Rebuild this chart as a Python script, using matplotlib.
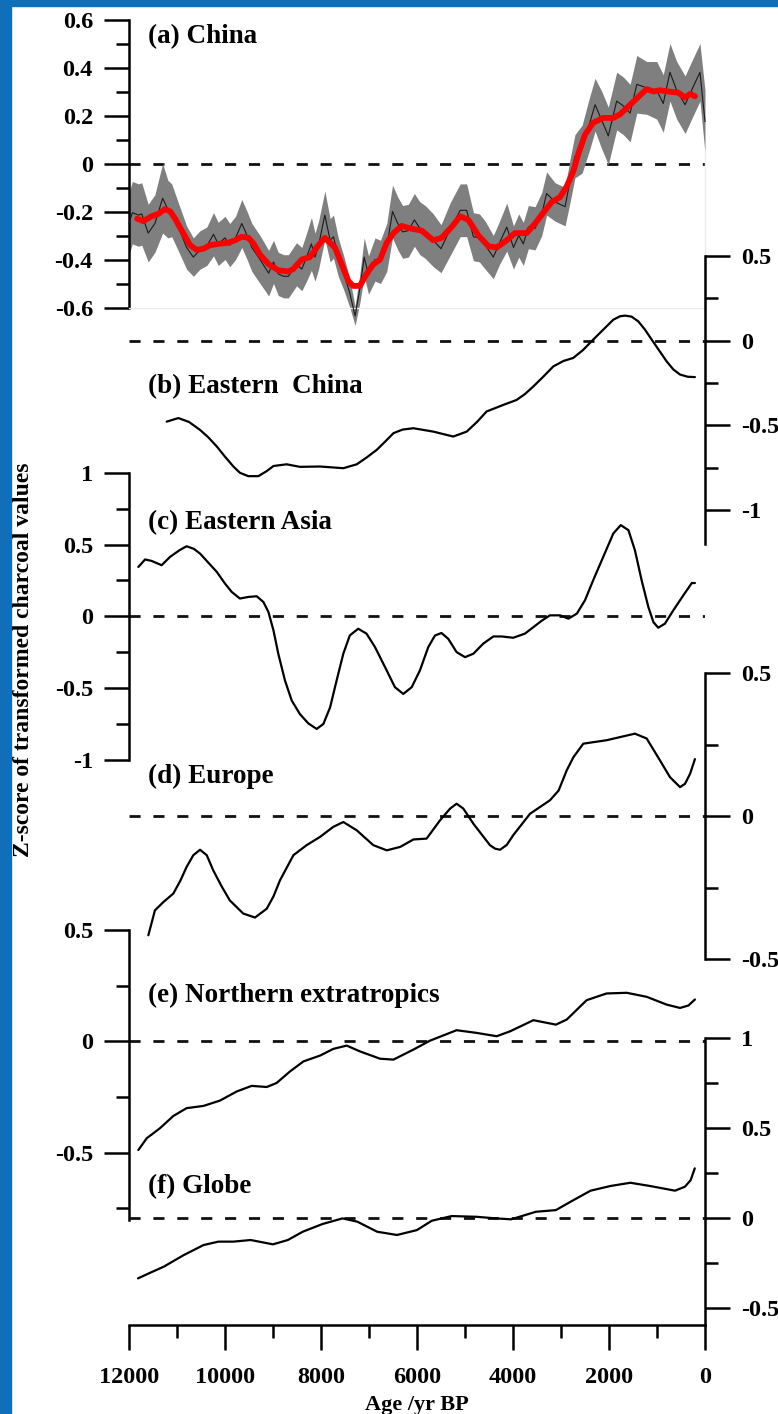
import matplotlib
matplotlib.use("Agg")
import matplotlib.pyplot as plt
from matplotlib.patches import Rectangle
from matplotlib.ticker import FixedLocator, FixedFormatter

# ---------------- data ----------------
# (a) China: thin mean line, its uncertainty half-width, and the smoothed red curve
a_age = [12000, 11930, 11800, 11735, 11600, 11460, 11300, 11190, 11110, 10970,
         10800, 10660, 10520, 10380, 10240, 10140, 10000, 9900, 9780, 9650,
         9540, 9440, 9270, 9090, 8990, 8890, 8780, 8680, 8510, 8400,
         8300, 8200, 8125, 8050, 7920, 7810, 7740, 7640, 7520, 7400,
         7290, 7190, 7100, 7010, 6875, 6760, 6630, 6510, 6400, 6300,
         6180, 6055, 5940, 5830, 5660, 5500, 5300, 5100, 4965, 4825,
         4700, 4580, 4410, 4280, 4130, 3990, 3880, 3785, 3680, 3540,
         3400, 3300, 3125, 2915, 2810, 2710, 2560, 2400, 2290, 2150,
         2015, 1840, 1700, 1560, 1420, 1215, 1005, 870, 730, 590,
         415, 245, 105, 0]
a_mean = [-0.25, -0.205, -0.215, -0.21, -0.29, -0.25, -0.145, -0.19, -0.195, -0.265,
          -0.35, -0.39, -0.36, -0.345, -0.295, -0.335, -0.31, -0.34, -0.31, -0.25,
          -0.30, -0.35, -0.40, -0.457, -0.41, -0.46, -0.47, -0.47, -0.42, -0.44,
          -0.39, -0.335, -0.39, -0.34, -0.215, -0.32, -0.305, -0.39, -0.46, -0.54,
          -0.635, -0.52, -0.39, -0.465, -0.40, -0.41, -0.35, -0.20, -0.25, -0.285,
          -0.28, -0.235, -0.27, -0.285, -0.32, -0.355, -0.27, -0.195, -0.195, -0.305,
          -0.31, -0.34, -0.39, -0.33, -0.265, -0.35, -0.30, -0.335, -0.265, -0.27,
          -0.21, -0.125, -0.16, -0.18, -0.07, 0.03, 0.06, 0.17, 0.245, 0.18,
          0.115, 0.26, 0.24, 0.21, 0.33, 0.315, 0.305, 0.25, 0.38, 0.305,
          0.245, 0.32, 0.38, 0.175]
a_err = [0.13, 0.13, 0.13, 0.13, 0.12, 0.12, 0.145, 0.12, 0.11, 0.10,
         0.09, 0.08, 0.08, 0.08, 0.09, 0.09, 0.09, 0.09, 0.09, 0.10,
         0.10, 0.10, 0.10, 0.095, 0.09, 0.09, 0.09, 0.09, 0.09, 0.09,
         0.10, 0.11, 0.10, 0.10, 0.10, 0.09, 0.09, 0.08, 0.07, 0.06,
         0.04, 0.06, 0.08, 0.08, 0.09, 0.09, 0.10, 0.11, 0.11, 0.11,
         0.11, 0.11, 0.11, 0.11, 0.11, 0.10, 0.11, 0.11, 0.11, 0.10,
         0.10, 0.10, 0.09, 0.09, 0.10, 0.09, 0.09, 0.09, 0.09, 0.09,
         0.09, 0.09, 0.08, 0.08, 0.09, 0.09, 0.10, 0.11, 0.11, 0.12,
         0.12, 0.12, 0.12, 0.12, 0.12, 0.11, 0.12, 0.12, 0.12, 0.12,
         0.12, 0.12, 0.12, 0.13]
a_smooth_age = [11830, 11700, 11530, 11390, 11250, 11140, 11040, 10900, 10730, 10590,
                10450, 10310, 10140, 9930, 9790, 9650, 9510, 9400, 9270, 9090,
                8890, 8680, 8580, 8400, 8230, 8090, 7920, 7710, 7570, 7430,
                7330, 7190, 7050, 6910, 6770, 6630, 6490, 6320, 6150, 5900,
                5660, 5490, 5280, 5100, 4930, 4720, 4510, 4340, 4130, 3960,
                3715, 3540, 3370, 3190, 3020, 2880, 2740, 2640, 2500, 2330,
                2120, 1910, 1770, 1560, 1350, 1215, 1075, 940, 765, 555,
                415, 310, 210]
a_smooth = [-0.23, -0.24, -0.22, -0.21, -0.19, -0.20, -0.23, -0.28, -0.34, -0.36,
            -0.355, -0.34, -0.335, -0.33, -0.32, -0.305, -0.31, -0.335, -0.38, -0.42,
            -0.445, -0.45, -0.44, -0.40, -0.39, -0.35, -0.31, -0.35, -0.42, -0.49,
            -0.51, -0.51, -0.46, -0.42, -0.40, -0.33, -0.29, -0.26, -0.27, -0.28,
            -0.32, -0.31, -0.265, -0.22, -0.235, -0.30, -0.345, -0.35, -0.32, -0.29,
            -0.29, -0.25, -0.205, -0.16, -0.14, -0.095, -0.03, 0.04, 0.12, 0.17,
            0.19, 0.19, 0.205, 0.245, 0.285, 0.31, 0.30, 0.305, 0.30, 0.295,
            0.275, 0.29, 0.28]

# (b) Eastern China
b_age = [11215, 10970, 10750, 10520, 10350, 10170, 10000, 9825, 9690, 9515,
         9305, 9130, 8990, 8715, 8440, 8020, 7535, 7255, 7050, 6840,
         6660, 6490, 6300, 6075, 5660, 5245, 4965, 4750, 4550, 4200,
         3925, 3750, 3575, 3360, 3160, 2950, 2745, 2540, 2330, 2120,
         1910, 1770, 1665, 1530, 1390, 1250, 1110, 950, 800, 660,
         520, 360, 210]
b_val = [-0.478, -0.457, -0.48, -0.527, -0.57, -0.625, -0.685, -0.743, -0.78, -0.80,
         -0.80, -0.77, -0.74, -0.73, -0.745, -0.743, -0.753, -0.73, -0.69, -0.645,
         -0.595, -0.546, -0.525, -0.517, -0.537, -0.566, -0.537, -0.48, -0.418, -0.379,
         -0.35, -0.315, -0.27, -0.21, -0.152, -0.12, -0.102, -0.055, 0.006, 0.065,
         0.124, 0.144, 0.148, 0.142, 0.114, 0.065, 0.006, -0.06, -0.122, -0.17,
         -0.20, -0.213, -0.215]

# (c) Eastern Asia
c_age = [11805, 11665, 11530, 11320, 11145, 10950, 10800, 10650, 10520, 10170,
         10000, 9860, 9690, 9515, 9340, 9200, 9095, 8990, 8890, 8750,
         8610, 8440, 8265, 8090, 7950, 7810, 7675, 7535, 7400, 7225,
         7050, 6875, 6665, 6460, 6285, 6110, 5940, 5765, 5625, 5490,
         5350, 5175, 5000, 4825, 4620, 4410, 4240, 3995, 3750, 3575,
         3400, 3230, 3020, 2845, 2670, 2500, 2330, 2120, 1910, 1755,
         1595, 1460, 1320, 1180, 1075, 975, 835, 660, 450, 275,
         210]
c_val = [0.344, 0.396, 0.386, 0.356, 0.414, 0.46, 0.488, 0.47, 0.437, 0.309,
         0.228, 0.17, 0.124, 0.135, 0.14, 0.10, 0.03, -0.098, -0.26, -0.447,
         -0.586, -0.68, -0.745, -0.784, -0.749, -0.633, -0.447, -0.26, -0.133, -0.086,
         -0.121, -0.214, -0.354, -0.493, -0.54, -0.493, -0.377, -0.214, -0.133, -0.116,
         -0.156, -0.249, -0.284, -0.26, -0.19, -0.14, -0.14, -0.149, -0.12, -0.075,
         -0.03, 0.007, 0.007, -0.016, 0.019, 0.112, 0.251, 0.414, 0.577, 0.635,
         0.60, 0.46, 0.251, 0.065, -0.04, -0.079, -0.051, 0.042, 0.147, 0.232,
         0.232]

# (d) Europe
d_age = [11597, 11460, 11285, 11076, 10930, 10800, 10660, 10520, 10380, 10245,
         10070, 9900, 9620, 9375, 9130, 8990, 8855, 8575, 8300, 8020,
         7745, 7535, 7255, 6910, 6630, 6350, 6075, 5800, 5520, 5310,
         5175, 5035, 4825, 4480, 4375, 4270, 4130, 3995, 3645, 3230,
         3050, 2880, 2740, 2535, 2050, 1460, 1215, 940, 730, 520,
         415, 310, 210]
d_val = [-0.416, -0.329, -0.30, -0.27, -0.225, -0.177, -0.136, -0.117, -0.136, -0.189,
         -0.245, -0.294, -0.34, -0.354, -0.323, -0.28, -0.224, -0.136, -0.101, -0.072,
         -0.037, -0.02, -0.049, -0.101, -0.119, -0.107, -0.081, -0.078, -0.014, 0.027,
         0.044, 0.027, -0.026, -0.101, -0.113, -0.117, -0.10, -0.066, 0.009, 0.056,
         0.09, 0.161, 0.207, 0.254, 0.266, 0.289, 0.272, 0.196, 0.137, 0.102,
         0.114, 0.149, 0.20]

# (e) Northern extratropics
e_age = [11805, 11630, 11354, 11076, 10800, 10450, 10105, 9755, 9445, 9130,
         8925, 8645, 8365, 8020, 7745, 7465, 7190, 6770, 6490, 6075,
         5730, 5175, 4760, 4340, 4060, 3575, 3105, 2880, 2465, 2050,
         1630, 1215, 800, 520, 345, 210]
e_val = [-0.488, -0.435, -0.39, -0.335, -0.30, -0.29, -0.266, -0.225, -0.20, -0.205,
         -0.187, -0.135, -0.09, -0.064, -0.034, -0.019, -0.045, -0.078, -0.082, -0.037,
         0.003, 0.05, 0.038, 0.023, 0.045, 0.095, 0.075, 0.098, 0.185, 0.215,
         0.218, 0.20, 0.165, 0.15, 0.161, 0.188]

# (f) Globe
f_age = [11812, 11585, 11275, 10862, 10448, 10138, 9827, 9466, 9000, 8691,
         8381, 7967, 7554, 7244, 6830, 6417, 6003, 5692, 5279, 4762,
         4348, 4038, 3521, 3108, 2798, 2384, 1970, 1556, 1144, 625,
         419, 300, 213]
f_val = [-0.335, -0.307, -0.27, -0.206, -0.15, -0.131, -0.131, -0.122, -0.146, -0.122,
         -0.076, -0.033, -0.002, -0.02, -0.076, -0.094, -0.067, -0.015, 0.011, 0.007,
         -0.002, -0.007, 0.035, 0.044, 0.091, 0.152, 0.178, 0.196, 0.178, 0.152,
         0.174, 0.21, 0.276]

x_ticks = [12000, 10000, 8000, 6000, 4000, 2000, 0]
x_tick_labels = ["12000", "10000", "8000", "6000", "4000", "2000", "0"]

# ---------------- layout ----------------
W, H = 778, 1414
X0, X1 = 129, 705          # pixel columns of 12000 and 0 yr BP
LW = 1.8                   # spine / tick width (pt)

plt.rcParams["font.family"] = ["Liberation Serif", "DejaVu Serif"]
plt.rcParams["font.weight"] = "bold"
plt.rcParams["axes.unicode_minus"] = False

fig = plt.figure(figsize=(W / 100, H / 100), dpi=100)
fig.patch.set_facecolor("white")


def add_panel(top_px, bot_px, vtop, vbot, side, major, minor, labels):
    ax = fig.add_axes([X0 / W, 1 - bot_px / H, (X1 - X0) / W, (bot_px - top_px) / H])
    ax.set_xlim(12000, 0)
    ax.set_ylim(vbot, vtop)
    ax.patch.set_alpha(0)
    for s in ax.spines.values():
        s.set_visible(False)
    ax.spines[side].set_visible(True)
    ax.spines[side].set_linewidth(LW)
    ax.tick_params(axis="x", which="both", bottom=False, labelbottom=False)
    if side == "left":
        ax.tick_params(axis="y", which="both", left=True, right=False,
                       labelleft=True, labelright=False)
    else:
        ax.tick_params(axis="y", which="both", left=False, right=True,
                       labelleft=False, labelright=True)
    ax.yaxis.set_major_locator(FixedLocator(major))
    ax.yaxis.set_major_formatter(FixedFormatter(labels))
    ax.yaxis.set_minor_locator(FixedLocator(minor))
    ax.tick_params(axis="y", which="major", direction="out", length=18,
                   width=LW, pad=8, labelsize=17.5)
    ax.tick_params(axis="y", which="minor", direction="out", length=9.5, width=LW)
    ax.axhline(0, color="#111111", lw=2.0, dashes=(4, 4.6), zorder=1)
    return ax


def label(ax_text, y_px):
    fig.text(148 / W, 1 - y_px / H, ax_text, fontsize=19.5, weight="bold",
             va="baseline", ha="left")


curve = dict(color="black", lw=1.6, clip_on=False,
             solid_capstyle="round", solid_joinstyle="round")

# (a) China
ax_a = add_panel(19.5, 307.5, 0.6, -0.6, "left",
                 [0.6, 0.4, 0.2, 0, -0.2, -0.4, -0.6],
                 [0.5, 0.3, 0.1, -0.1, -0.3, -0.5],
                 ["0.6", "0.4", "0.2", "0", "-0.2", "-0.4", "-0.6"])
ax_a.spines["bottom"].set_visible(True)
ax_a.spines["bottom"].set_color("#ececec")
ax_a.spines["bottom"].set_linewidth(1)
ax_a.spines["right"].set_visible(True)
ax_a.spines["right"].set_color("#ececec")
ax_a.spines["right"].set_linewidth(1)
ax_a.spines["right"].set_bounds(-0.6, 0.05)
lo = [m - e for m, e in zip(a_mean, a_err)]
hi = [m + e for m, e in zip(a_mean, a_err)]
ax_a.fill_between(a_age, lo, hi, color="#7f7f7f", lw=0, clip_on=False, zorder=2)
ax_a.plot(a_age, a_mean, color="#1a1a1a", lw=0.8, clip_on=False, zorder=3)
ax_a.plot(a_smooth_age, a_smooth, color="#ff0000", lw=4.2, clip_on=False,
          solid_capstyle="round", solid_joinstyle="round", zorder=4)
label("(a) China", 43)

# (b) Eastern China
ax_b = add_panel(256, 543.9, 0.5, -1.2, "right",
                 [0.5, 0, -0.5, -1], [0.25, -0.25, -0.75],
                 ["0.5", "0", "-0.5", "-1"])
ax_b.plot(b_age, b_val, **curve)
label("(b) Eastern  China", 393)

# (c) Eastern Asia
ax_c = add_panel(472.7, 760, 1, -1, "left",
                 [1, 0.5, 0, -0.5, -1], [0.75, 0.25, -0.25, -0.75],
                 ["1", "0.5", "0", "-0.5", "-1"])
ax_c.plot(c_age, c_val, **curve)
label("(c) Eastern Asia", 529)

# (d) Europe
ax_d = add_panel(673.3, 959.3, 0.5, -0.5, "right",
                 [0.5, 0, -0.5], [0.25, -0.25],
                 ["0.5", "0", "-0.5"])
ax_d.plot(d_age, d_val, **curve)
label("(d) Europe", 783)

# (e) Northern extratropics
ax_e = add_panel(930, 1219.5, 0.5, -0.8, "left",
                 [0.5, 0, -0.5], [0.25, -0.25, -0.75],
                 ["0.5", "0", "-0.5"])
ax_e.plot(e_age, e_val, **curve)
label("(e) Northern extratropics", 1001.5)

# (f) Globe, carrying the shared age axis
ax_f = add_panel(1038, 1325, 1, -0.594, "right",
                 [1, 0.5, 0, -0.5], [0.75, 0.25, -0.25],
                 ["1", "0.5", "0", "-0.5"])
ax_f.plot(f_age, f_val, **curve)
ax_f.spines["bottom"].set_visible(True)
ax_f.spines["bottom"].set_linewidth(LW)
ax_f.set_xticks(x_ticks)
ax_f.set_xticklabels(x_tick_labels)
ax_f.xaxis.set_minor_locator(FixedLocator([11000, 9000, 7000, 5000, 3000, 1000]))
ax_f.tick_params(axis="x", which="major", bottom=True, labelbottom=True,
                 direction="out", length=18, width=LW, pad=12, labelsize=17.5)
ax_f.tick_params(axis="x", which="minor", bottom=True, direction="out",
                 length=9.5, width=LW)
label("(f) Globe", 1193)

fig.text(417 / W, 1 - 1410 / H, "Age /yr BP", fontsize=16, weight="bold",
         ha="center", va="baseline")
fig.text(24 / W, 1 - 660 / H, "Z-score of transformed charcoal values",
         fontsize=17, weight="bold", rotation=90, ha="center", va="center")

# blue frame strips on the left and top edges
fig.patches.append(Rectangle((0, 0), 11 / W, 1, transform=fig.transFigure,
                             color="#0f6fb8", zorder=10))
fig.patches.append(Rectangle((0, 1 - 6 / H), 1, 6 / H, transform=fig.transFigure,
                             color="#0f6fb8", zorder=10))

fig.savefig("out.png", dpi=100, facecolor="white")
